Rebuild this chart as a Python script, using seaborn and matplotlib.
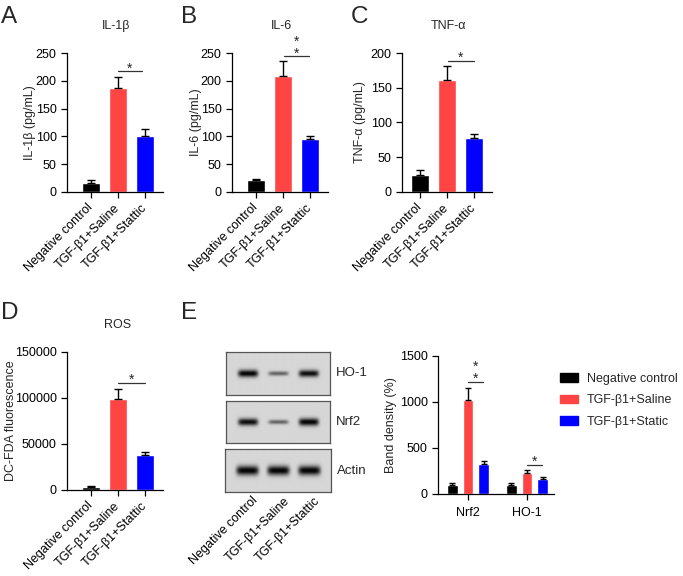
import numpy as np
import pandas as pd
import matplotlib
matplotlib.use("Agg")
import matplotlib.pyplot as plt
import matplotlib.transforms as mtrans
from matplotlib.container import BarContainer
import seaborn as sns

# ---------------- data ----------------
categories = ["Negative control", "TGF-β1+Saline", "TGF-β1+Stattic"]
legend_labels = ["Negative control", "TGF-β1+Saline", "TGF-β1+Static"]

il1b_mean = [17, 187, 101]
il1b_err = [4, 20, 13]
il6_mean = [22, 209, 95]
il6_err = [2, 26, 5]
tnf_mean = [25, 161, 77]
tnf_err = [6, 20, 6]
ros_mean = [3300, 98900, 38000]
ros_err = [1400, 10900, 3700]

genes = ["Nrf2", "HO-1"]
nrf2_mean = [101, 1023, 325]
nrf2_err = [15, 126, 36]
ho1_mean = [98, 228, 166]
ho1_err = [18, 32, 22]

blot_proteins = ["HO-1", "Nrf2", "Actin"]
blot_intensity = {"HO-1": [1.0, 0.55, 0.95], "Nrf2": [0.95, 0.55, 1.0], "Actin": [1.0, 1.0, 1.0]}
blot_thickness = {"HO-1": [1.0, 0.6, 0.95], "Nrf2": [1.0, 0.6, 1.05], "Actin": [1.3, 1.3, 1.3]}

# ---------------- style ----------------
sns.set_style("ticks")
plt.rcParams["font.family"] = ["Liberation Sans", "DejaVu Sans"]
plt.rcParams["font.size"] = 9
plt.rcParams["axes.linewidth"] = 0.9
plt.rcParams["xtick.major.width"] = 0.9
plt.rcParams["ytick.major.width"] = 0.9
plt.rcParams["xtick.major.size"] = 4
plt.rcParams["ytick.major.size"] = 4
plt.rcParams["xtick.labelsize"] = 9
plt.rcParams["ytick.labelsize"] = 9
plt.rcParams["axes.edgecolor"] = "black"
plt.rcParams["xtick.color"] = "black"
plt.rcParams["ytick.color"] = "black"

colors = ["#000000", "#FF4444", "#0000FF"]

W, H = 683, 576
fig = plt.figure(figsize=(W / 100, H / 100), dpi=100)


def px_axes(x0, x1, ytop, ybot):
    ax = fig.add_axes([x0 / W, 1 - ybot / H, (x1 - x0) / W, (ybot - ytop) / H])
    ax._px = (x0, x1)
    return ax


def set_ylabel_px(ax, text, xpix):
    x0, x1 = ax._px
    ax.set_ylabel(text, fontsize=9)
    ax.yaxis.set_label_coords((xpix - x0) / (x1 - x0), 0.5)


def sig(ax, x0, x1, y, nstars):
    ax.plot([x0, x1], [y, y], color="#333333", lw=0.9, clip_on=False)
    tr = mtrans.offset_copy(ax.transData, fig=fig, x=0, y=-3.2, units="points")
    ax.text((x0 + x1) / 2, y, "\n".join(["*"] * nstars), ha="center", va="bottom",
            fontsize=10, linespacing=0.85, transform=tr, clip_on=False)


def bar_panel(ax, mean, err, ymax, step, title, ylabel, xlim, ylab_x, title_xy):
    df = pd.DataFrame({"group": categories, "value": mean})
    sns.barplot(data=df, x="group", y="value", hue="group", palette=colors,
                saturation=1, width=0.66, legend=False, ax=ax)
    ax.errorbar(range(len(mean)), mean, yerr=[[0] * len(err), err], fmt="none",
                ecolor="black", elinewidth=1, capsize=3, capthick=1)
    ax.set_ylim(0, ymax)
    ax.set_yticks(np.arange(0, ymax + 1, step))
    ax.set_xlim(*xlim)
    ax.set_xlabel("")
    set_ylabel_px(ax, ylabel, ylab_x)
    fig.text(title_xy[0] / W, 1 - title_xy[1] / H, title, fontsize=9,
             ha="center", va="center")
    for lab in ax.get_xticklabels():
        lab.set_rotation(45)
        lab.set_ha("right")
        lab.set_va("center")
        lab.set_rotation_mode("anchor")
    ax.tick_params(axis="x", pad=6)
    sns.despine(ax=ax)


xl = (-0.87, 2.67)
axA = px_axes(67, 163, 53, 192)
bar_panel(axA, il1b_mean, il1b_err, 250, 50, "IL-1β", "IL-1β (pg/mL)", xl, 36, (116, 26))
sig(axA, 1.0, 1.89, 217, 1)

axB = px_axes(232, 328, 53, 192)
bar_panel(axB, il6_mean, il6_err, 250, 50, "IL-6", "IL-6 (pg/mL)", xl, 202, (282, 26))
sig(axB, 1.03, 1.96, 244, 2)

axC = px_axes(402, 492, 53, 192)
bar_panel(axC, tnf_mean, tnf_err, 200, 50, "TNF-α", "TNF-α (pg/mL)", (-0.65, 2.67), 366, (448, 26))
sig(axC, 1.05, 2.0, 189, 1)

axD = px_axes(67, 163, 352, 490)
bar_panel(axD, ros_mean, ros_err, 150000, 50000, "ROS", "DC-FDA fluorescence", xl, 17, (118, 325))
sig(axD, 1.0, 2.0, 116600, 1)

# ---------------- western blot ----------------
blot_boxes = {"HO-1": (226, 330, 352, 395), "Nrf2": (226, 330, 401, 443), "Actin": (225, 331, 449, 492)}
nx, ny = 210, 86
xs = np.linspace(-0.72, 2.69, nx)
ys = np.linspace(-1, 1, ny)
XX, YY = np.meshgrid(xs, ys)
for prot in blot_proteins:
    x0, x1, yt, yb = blot_boxes[prot]
    ax = px_axes(x0, x1, yt, yb)
    img = np.full((ny, nx), 0.84)
    for lane, (inten, th) in enumerate(zip(blot_intensity[prot], blot_thickness[prot])):
        sx = 0.33 if prot != "Actin" else 0.36
        gx = np.exp(-((XX - lane) / sx) ** 6)
        gy = np.exp(-(YY / (0.17 * th)) ** 2)
        img -= 0.84 * inten * gx * gy
    img = np.clip(img, 0.02, 1)
    ax.imshow(img, cmap="gray", vmin=0, vmax=1, aspect="auto",
              extent=(-0.72, 2.69, -1, 1), interpolation="bilinear")
    ax.set_xlim(-0.72, 2.69)
    ax.set_ylim(-1, 1)
    ax.set_yticks([])
    for s in ax.spines.values():
        s.set_color("#555555")
        s.set_linewidth(0.9)
    ax.text(1.06, 0.5, prot, transform=ax.transAxes, ha="left", va="center", fontsize=9.5)
    if prot == "Actin":
        ax.set_xticks([0, 1, 2])
        ax.set_xticklabels(categories, rotation=45, ha="right", va="center",
                           rotation_mode="anchor")
        ax.tick_params(axis="x", length=0, pad=5)
        shift = mtrans.ScaledTranslation(9 / 100, 0, fig.dpi_scale_trans)
        for lab in ax.get_xticklabels():
            lab.set_transform(lab.get_transform() + shift)
    else:
        ax.set_xticks([])

# ---------------- band density ----------------
rows = []
for g, m in zip(genes, [nrf2_mean, ho1_mean]):
    for lab, v in zip(legend_labels, m):
        rows.append({"gene": g, "group": lab, "value": v})
dfE = pd.DataFrame(rows)
axE = px_axes(438, 554, 356, 494)
sns.barplot(data=dfE, x="gene", y="value", hue="group", hue_order=legend_labels,
            palette=colors, saturation=1, gap=0.32, ax=axE, legend=False)
errs = {"Nrf2": nrf2_err, "HO-1": ho1_err}
means = {"Nrf2": nrf2_mean, "HO-1": ho1_mean}
bar_conts = [c for c in list(axE.containers) if isinstance(c, BarContainer)]
for hi, cont in enumerate(bar_conts):
    for gi, bar in enumerate(cont.patches):
        g = genes[gi]
        xc = bar.get_x() + bar.get_width() / 2
        axE.errorbar([xc], [means[g][hi]], yerr=[[0], [errs[g][hi]]], fmt="none",
                     ecolor="black", elinewidth=1, capsize=2.5, capthick=1)
axE.set_ylim(0, 1500)
axE.set_yticks([0, 500, 1000, 1500])
axE.set_xlim(-0.51, 1.46)
axE.set_xlabel("")
set_ylabel_px(axE, "Band density (%)", 397)
axE.tick_params(axis="x", pad=5)
sns.despine(ax=axE)
sig(axE, 0.0, 0.26, 1221, 2)
sig(axE, 1.0, 1.26, 318, 1)

handles = [plt.Rectangle((0, 0), 1, 1, color=c) for c in colors]
fig.legend(handles, legend_labels, loc="upper left", bbox_to_anchor=(560 / W, 1 - 373 / H),
           frameon=False, fontsize=9, handlelength=1.45, handleheight=0.65,
           handletextpad=0.7, labelspacing=0.75, borderaxespad=0, borderpad=0)

# ---------------- panel letters ----------------
for letter, (x, y) in {"A": (1, 6), "B": (181, 6), "C": (351, 6), "D": (1, 302), "E": (181, 302)}.items():
    fig.text(x / W, 1 - y / H, letter, fontsize=17.5, ha="left", va="top")

fig.savefig("out.png", dpi=100)
